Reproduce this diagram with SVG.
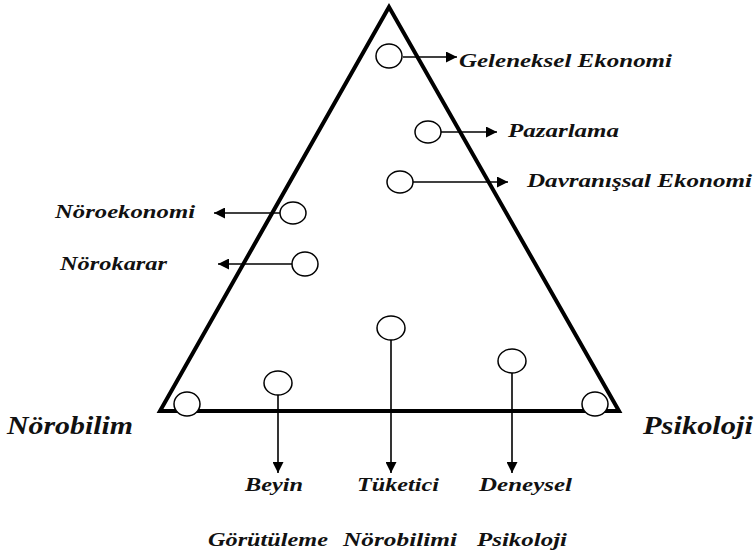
<svg xmlns="http://www.w3.org/2000/svg" width="755" height="557" viewBox="0 0 755 557">
<style>
.lbl{font-family:"Liberation Serif","Times New Roman",serif;font-weight:bold;font-style:italic;font-size:19.5px;fill:#111;}
.big{font-size:26px;}
.nd{fill:#fff;stroke:#000;stroke-width:1.5;}
.cn{stroke:#000;stroke-width:1.6;fill:none;marker-end:url(#ah);}
</style>
<defs>
<marker id="ah" viewBox="0 0 10 10" refX="10" refY="5" markerUnits="userSpaceOnUse" markerWidth="13" markerHeight="11" orient="auto">
<path d="M0,0 L10,5 L0,10 z" fill="#000"/>
</marker>
</defs>
<rect width="755" height="557" fill="#fff"/>
<g id="triangle">
<path d="M389,7 L160,411 L619,411 Z" fill="none" stroke="#000" stroke-width="4" stroke-linejoin="miter"/>
</g>
<g id="connectors">
<line class="cn" x1="403" y1="57" x2="457" y2="57"/>
<line class="cn" x1="441" y1="132" x2="497" y2="132"/>
<line class="cn" x1="413" y1="182" x2="508" y2="182"/>
<line class="cn" x1="280" y1="213" x2="214" y2="213"/>
<line class="cn" x1="292" y1="264" x2="218" y2="264"/>
<line class="cn" x1="278" y1="395" x2="278" y2="473"/>
<line class="cn" x1="391" y1="340" x2="391" y2="473"/>
<line class="cn" x1="512" y1="373" x2="512" y2="473"/>
</g>
<g id="n-geleneksel"><ellipse class="nd" cx="389" cy="56" rx="13" ry="12"/><text class="lbl" x="459" y="67" textLength="213" lengthAdjust="spacingAndGlyphs">Geleneksel Ekonomi</text></g>
<g id="n-pazarlama"><ellipse class="nd" cx="428" cy="132" rx="13" ry="11"/><text class="lbl" x="508" y="137" textLength="111" lengthAdjust="spacingAndGlyphs">Pazarlama</text></g>
<g id="n-davranissal"><ellipse class="nd" cx="400" cy="182" rx="13" ry="11"/><text class="lbl" x="527" y="187" textLength="225" lengthAdjust="spacingAndGlyphs">Davranışsal Ekonomi</text></g>
<g id="n-noroekonomi"><ellipse class="nd" cx="293" cy="213" rx="13" ry="11"/><text class="lbl" x="55" y="218" textLength="140" lengthAdjust="spacingAndGlyphs">Nöroekonomi</text></g>
<g id="n-norokarar"><ellipse class="nd" cx="305" cy="264" rx="13" ry="12"/><text class="lbl" x="60" y="270" textLength="107" lengthAdjust="spacingAndGlyphs">Nörokarar</text></g>
<g id="n-beyin"><ellipse class="nd" cx="278" cy="383" rx="14" ry="12"/><text class="lbl" x="245" y="491" textLength="58" lengthAdjust="spacingAndGlyphs">Beyin</text><text class="lbl" x="208" y="546" textLength="120" lengthAdjust="spacingAndGlyphs">Görütüleme</text></g>
<g id="n-tuketici"><ellipse class="nd" cx="391" cy="328" rx="14" ry="12"/><text class="lbl" x="357" y="491" textLength="82" lengthAdjust="spacingAndGlyphs">Tüketici</text><text class="lbl" x="343" y="546" textLength="114" lengthAdjust="spacingAndGlyphs">Nörobilimi</text></g>
<g id="n-deneysel"><ellipse class="nd" cx="512" cy="361" rx="14" ry="12"/><text class="lbl" x="479" y="491" textLength="93" lengthAdjust="spacingAndGlyphs">Deneysel</text><text class="lbl" x="477" y="546" textLength="90" lengthAdjust="spacingAndGlyphs">Psikoloji</text></g>
<g id="n-norobilim"><ellipse class="nd" cx="187" cy="404" rx="13" ry="12"/><text class="lbl big" x="7" y="434" textLength="126" lengthAdjust="spacingAndGlyphs">Nörobilim</text></g>
<g id="n-psikoloji"><ellipse class="nd" cx="595" cy="404" rx="13" ry="12"/><text class="lbl big" x="643" y="434" textLength="110" lengthAdjust="spacingAndGlyphs">Psikoloji</text></g>
</svg>
